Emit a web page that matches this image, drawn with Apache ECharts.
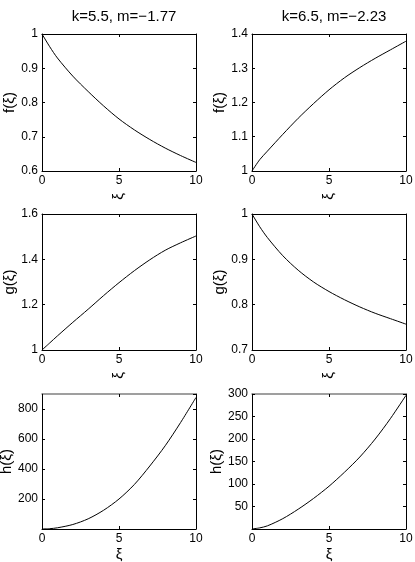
<!DOCTYPE html>
<html>
<head>
<meta charset="utf-8">
<script src="https://cdn.jsdelivr.net/npm/echarts@6/dist/echarts.min.js"></script>
<style>
  html, body { margin: 0; padding: 0; background: #fff; }
  #main { width: 415px; height: 562px; }
</style>
</head>
<body>
<div id="main"></div>
<script>
// xi sample points
const xi = [0, 0.5, 1, 2, 3, 4, 5, 6, 7, 8, 9, 10]

// left column: k=5.5, m=-1.77
const f1 = [1, 0.963, 0.93, 0.877, 0.832, 0.79, 0.752, 0.72, 0.692, 0.667, 0.645, 0.625]
const g1 = [1, 1.031, 1.062, 1.122, 1.18, 1.24, 1.297, 1.35, 1.398, 1.44, 1.473, 1.503]
const h1 = [0, 2, 8, 30, 68, 125, 200, 297, 420, 555, 710, 877]

// right column: k=6.5, m=-2.23
const f2 = [1, 1.033, 1.058, 1.107, 1.154, 1.197, 1.237, 1.272, 1.302, 1.329, 1.354, 1.379]
const g2 = [1, 0.972, 0.948, 0.908, 0.876, 0.85, 0.829, 0.811, 0.795, 0.781, 0.769, 0.757]
const h2 = [0, 2.5, 7, 23, 44, 68, 95, 126, 160, 200, 246, 297]

const titles = ['k=5.5, m=\u22121.77', 'k=6.5, m=\u22122.23']
const yNames = ['f(\u03be)', 'g(\u03be)', 'h(\u03be)']
const xName = '\u03be'
const xTicks = [0, 10, 5]  // min, max, step

// panels in row order: [values, min, max, step]
const panels = [
    [f1, 0.6, 1, 0.1],
    [f2, 1, 1.4, 0.1],
    [g1, 1, 1.6, 0.2],
    [g2, 0.7, 1, 0.1],
    [h1, 0, 900, 200],
    [h2, 0, 300, 50]
]

;(function () {
    let chart = echarts.init(document.getElementById('main'))
    const font = '"Liberation Sans", Arial, Helvetica, sans-serif'
    const cols = [42, 252]
    const rows = [[34, 137], [214, 136], [394, 135]]
    const black = '#000'

    let grid = [], xAxis = [], yAxis = [], series = []
    // box line + inside ticks, like matlab
    const line = { show: true, onZero: false, lineStyle: { color: black, width: 1 } }
    const tick = { show: true, inside: true, length: 3, lineStyle: { color: black } }

    panels.forEach((p, i) => {
        const row = Math.floor(i / 2), col = i % 2
        const [vals, ymin, ymax, ystep] = p
        grid.push({
            left: cols[col], top: rows[row][0], width: 154, height: rows[row][1],
            containLabel: false, outerBoundsMode: 'none'
        })

        const xBase = { gridIndex: i, type: 'value', min: xTicks[0], max: xTicks[1], interval: xTicks[2],
            axisLine: line, axisTick: tick, splitLine: { show: false } }
        xAxis.push(Object.assign({}, xBase, {
            position: 'bottom',
            name: xName,
            nameLocation: 'middle',
            nameGap: row < 2 ? 22 : 18,
            nameRotate: row < 2 ? 90 : 0,
            nameTextStyle: { color: black, fontSize: 15, fontFamily: font },
            axisLabel: { color: black, fontSize: 12, fontFamily: font, margin: 4 }
        }))
        // top edge of the last row is drawn greyer in the original
        const topLine = row === 2
            ? { show: true, onZero: false, lineStyle: { color: '#808080', width: 1.5 } }
            : line
        xAxis.push(Object.assign({}, xBase, { position: 'top', axisLine: topLine, axisLabel: { show: false } }))

        const steps = (ymax - ymin) / ystep
        const yBase = { gridIndex: i, type: 'value', min: ymin, max: ymax, interval: ystep,
            axisLine: line, axisTick: tick, splitLine: { show: false } }
        yAxis.push(Object.assign({}, yBase, {
            position: 'left',
            name: yNames[row],
            nameLocation: 'middle',
            nameGap: col === 0 ? 22 : 25,
            nameTextStyle: { color: black, fontSize: 15, fontFamily: font },
            axisLabel: {
                color: black, fontSize: 12, fontFamily: font, margin: 4,
                showMinLabel: ymin !== 0,
                showMaxLabel: Math.abs(steps - Math.round(steps)) < 1e-6
            }
        }))
        yAxis.push(Object.assign({}, yBase, { position: 'right', axisLabel: { show: false } }))

        series.push({
            type: 'line',
            xAxisIndex: 2 * i,
            yAxisIndex: 2 * i,
            data: xi.map((x, j) => [x, vals[j]]),
            showSymbol: false,
            smooth: 0.3,
            lineStyle: { color: black, width: 1 }
        })
    })

    let option = {
        animation: false,
        backgroundColor: '#fff',
        title: titles.map((t, c) => ({
            text: t,
            left: cols[c] + 77,
            top: 4,
            textAlign: 'center',
            textStyle: { color: black, fontSize: 15, fontWeight: 'normal', fontFamily: font }
        })),
        grid: grid,
        xAxis: xAxis,
        yAxis: yAxis,
        series: series
    }
    chart.setOption(option)
})()
</script>
</body>
</html>
